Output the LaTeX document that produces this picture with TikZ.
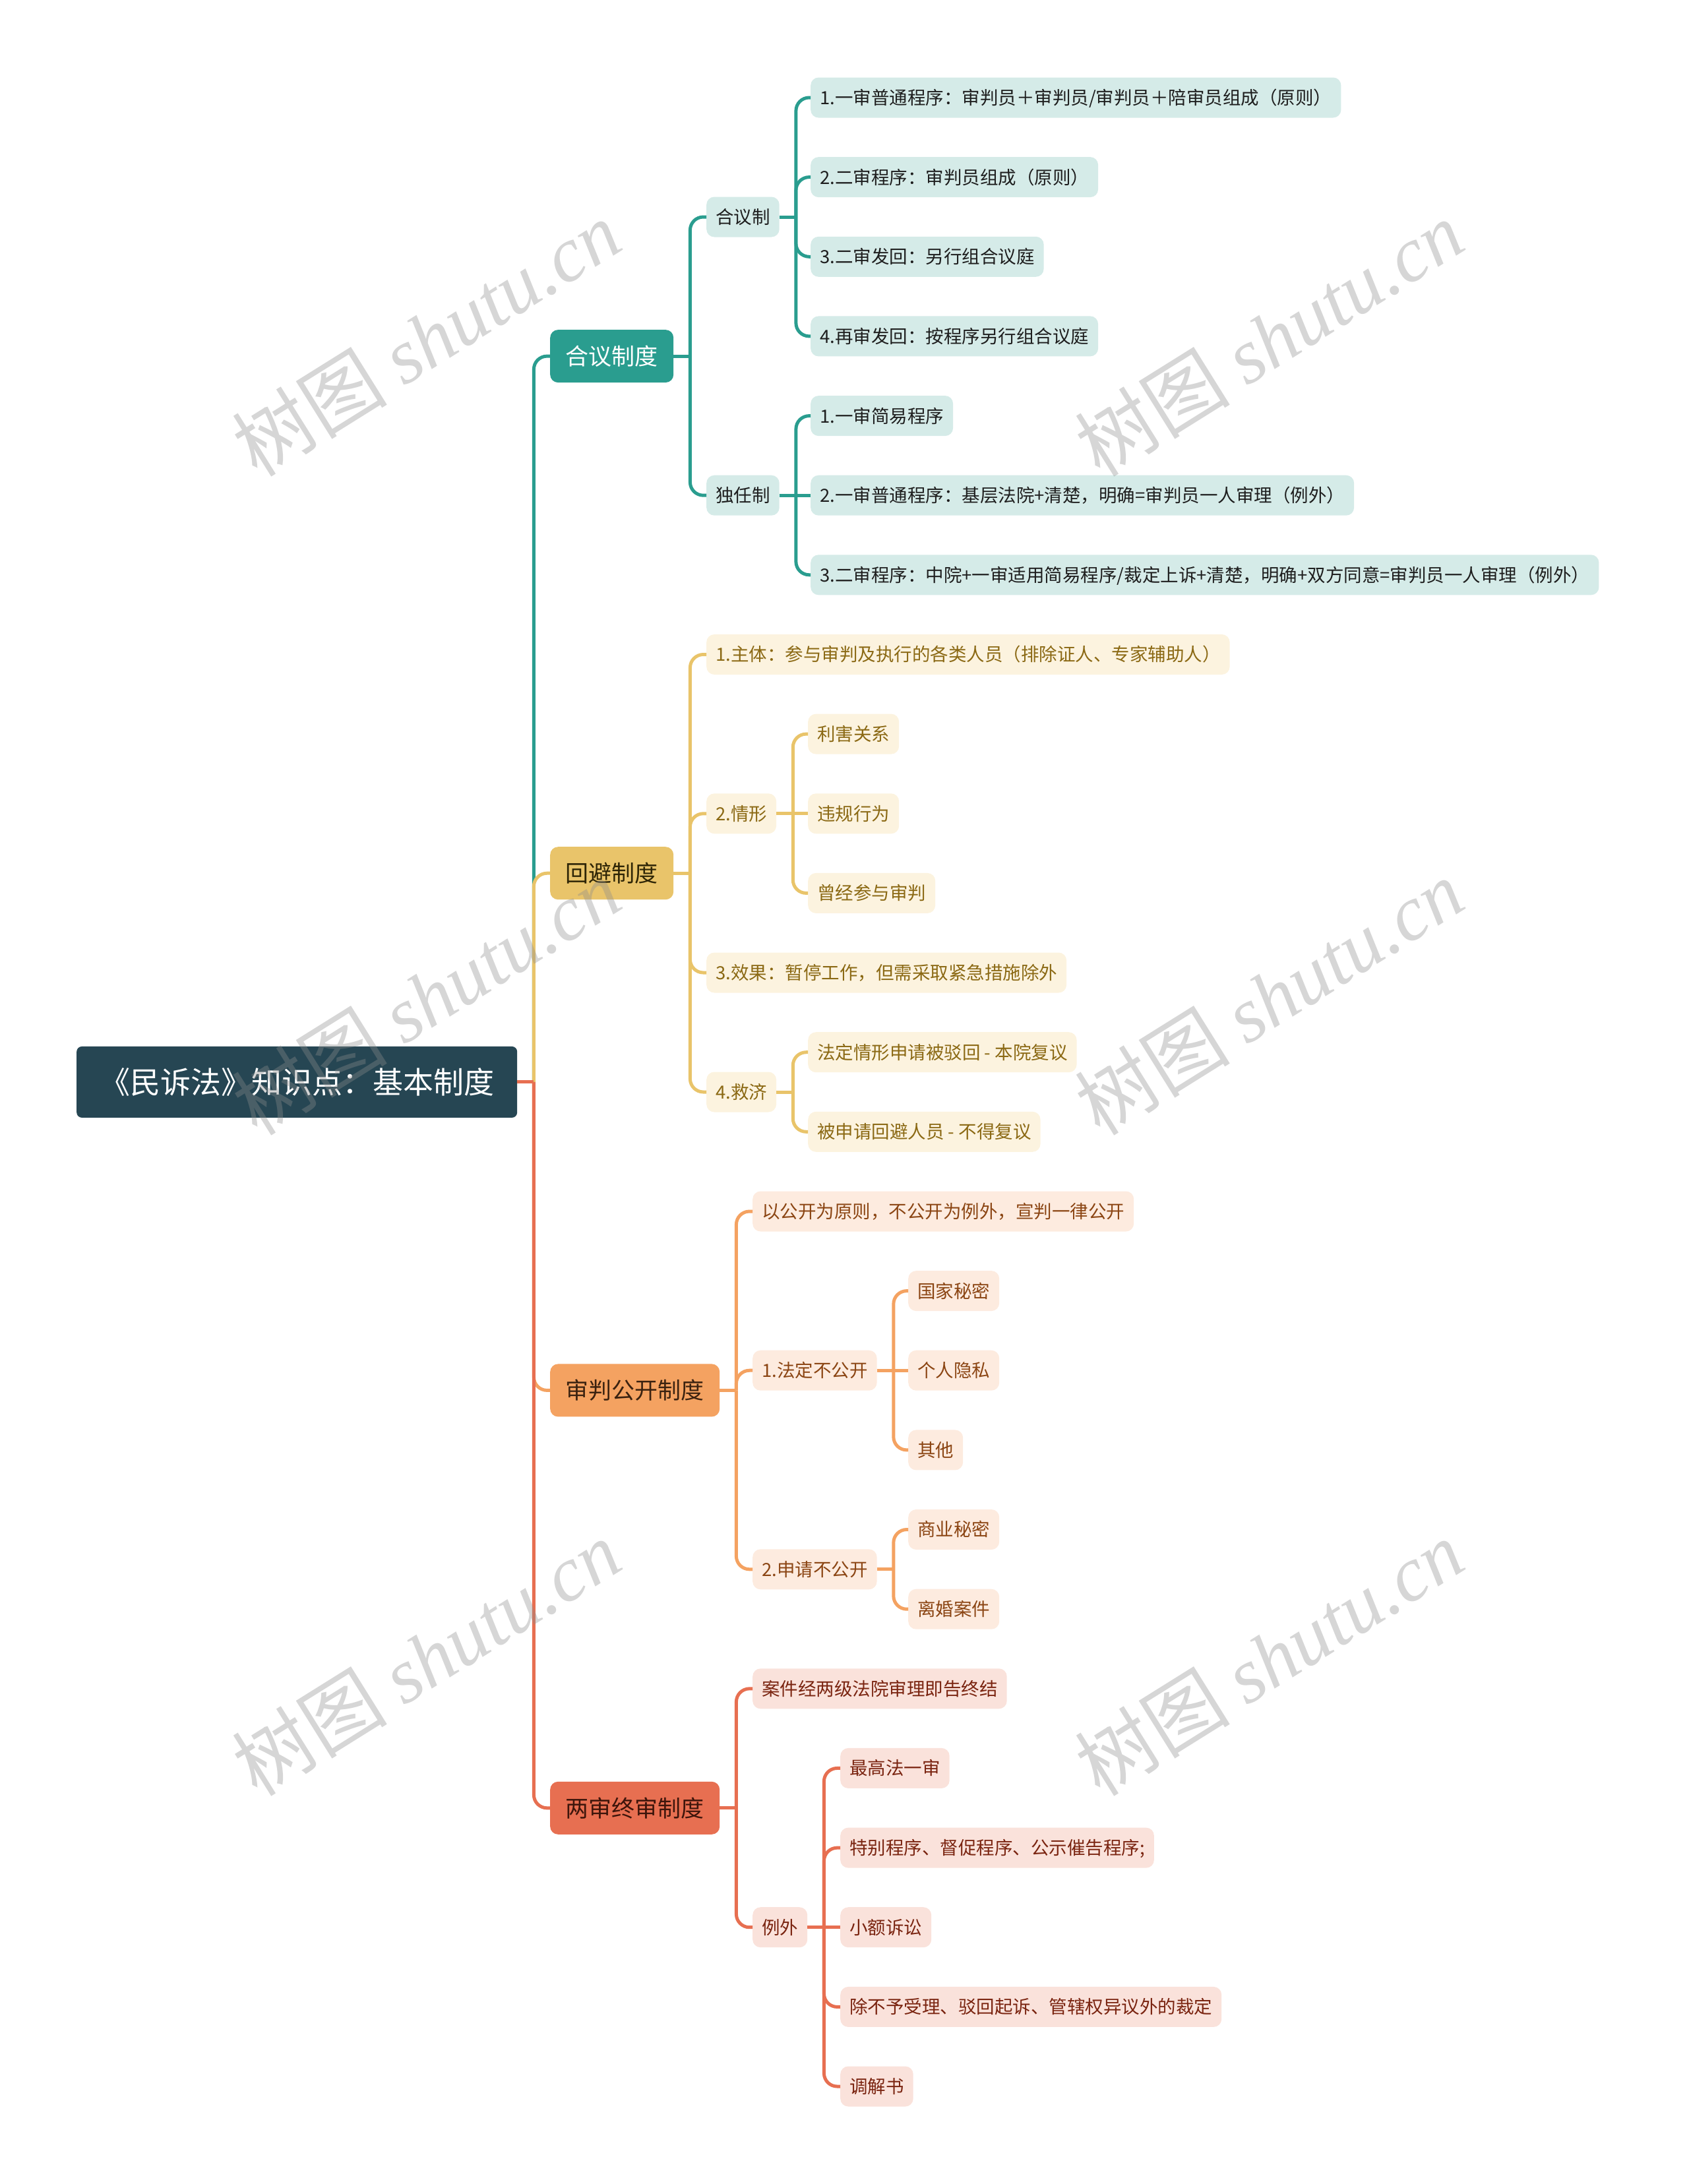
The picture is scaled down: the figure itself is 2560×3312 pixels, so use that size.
\documentclass[tikz,border=0pt]{standalone}
\usepackage{fontspec}
\setmainfont{Noto Sans CJK SC}
\newfontfamily\wmlatin{Liberation Serif}
\definecolor{rootc}{HTML}{264653}
\definecolor{tealc}{HTML}{2A9D8F}
\definecolor{tealsub}{HTML}{D5EBE8}
\definecolor{tealtx}{HTML}{1E1E1E}
\definecolor{yelc}{HTML}{E9C46A}
\definecolor{yelsub}{HTML}{FCF3DF}
\definecolor{yeltx}{HTML}{2E2506}
\definecolor{yelsubtx}{HTML}{8B6914}
\definecolor{orac}{HTML}{F4A261}
\definecolor{orasub}{HTML}{FDEBDF}
\definecolor{oratx}{HTML}{3B2210}
\definecolor{orasubtx}{HTML}{8B4513}
\definecolor{redc}{HTML}{E76F51}
\definecolor{redsub}{HTML}{FAE2DB}
\definecolor{redtx}{HTML}{3D150B}
\definecolor{redsubtx}{HTML}{7A2410}
\definecolor{wmc}{HTML}{8C8C8C}
\newcommand{\mmelbow}[3]{%
  \draw[conn,#1] (#2.east) -- ++(25,0) coordinate (elbowtmp);
  \draw[conn,#1,rounded corners=20pt] (elbowtmp) |- (#3.west);}
\newcommand{\mmstraight}[3]{\draw[conn,#1] (#2.east) -- (#3.west);}
\begin{document}
\begin{tikzpicture}[x=1pt,y=-1pt,
  conn/.style={line width=5pt},
  base/.style={anchor=west, inner ysep=0pt},
  rootbox/.style={base, fill=rootc, text=white, font=\fontsize{46}{50}\selectfont,
    inner xsep=35pt, minimum height=108pt, text height=38pt, text depth=3.2pt, rounded corners=8pt},
  lone/.style={base, font=\fontsize{35}{40}\selectfont, inner xsep=23.5pt,
    minimum height=80pt, text height=29pt, text depth=2.5pt, rounded corners=12pt},
  sub/.style={base, font=\fontsize{27.5}{32}\selectfont, inner xsep=14pt,
    minimum height=61pt, text height=22.8pt, text depth=1.9pt, rounded corners=12pt},
  ta/.style={sub, fill=tealsub, text=tealtx},
  yb/.style={sub, fill=yelsub, text=yelsubtx},
  oc/.style={sub, fill=orasub, text=orasubtx},
  rd/.style={sub, fill=redsub, text=redsubtx},
  wm/.style={rotate=32, text=wmc, text opacity=0.36, font=\fontsize{118}{120}\selectfont}
]
\useasboundingbox (0,0) rectangle (2560,3312);

% root and main branches
\node[rootbox] (R) at (116,1640.9) {《民诉法》知识点：基本制度};
\node[lone, fill=tealc, text=white] (A) at (834,540.1) {合议制度};
\node[lone, fill=yelc, text=yeltx] (B) at (834,1324.2) {回避制度};
\node[lone, fill=orac, text=oratx] (C) at (834,2108.4) {审判公开制度};
\node[lone, fill=redc, text=redtx] (D) at (834,2741.8) {两审终审制度};

% 合议制度
\node[ta] (A1) at (1071,329.0) {合议制};
\node[ta] (A2) at (1071,751.2) {独任制};
\node[ta] (A11) at (1229,148.0) {1.一审普通程序：审判员＋审判员/审判员＋陪审员组成（原则）};
\node[ta] (A12) at (1229,268.6) {2.二审程序：审判员组成（原则）};
\node[ta] (A13) at (1229,389.3) {3.二审发回：另行组合议庭};
\node[ta] (A14) at (1229,509.9) {4.再审发回：按程序另行组合议庭};
\node[ta] (A21) at (1229,630.6) {1.一审简易程序};
\node[ta] (A22) at (1229,751.2) {2.一审普通程序：基层法院+清楚，明确=审判员一人审理（例外）};
\node[ta] (A23) at (1229,871.8) {3.二审程序：中院+一审适用简易程序/裁定上诉+清楚，明确+双方同意=审判员一人审理（例外）};

% 回避制度
\node[yb] (B1) at (1071,992.5) {1.主体：参与审判及执行的各类人员（排除证人、专家辅助人）};
\node[yb] (B2) at (1071,1233.8) {2.情形};
\node[yb] (B21) at (1225,1113.1) {利害关系};
\node[yb] (B22) at (1225,1233.8) {违规行为};
\node[yb] (B23) at (1225,1354.4) {曾经参与审判};
\node[yb] (B3) at (1071,1475.0) {3.效果：暂停工作，但需采取紧急措施除外};
\node[yb] (B4) at (1071,1656.0) {4.救济};
\node[yb] (B41) at (1225,1595.7) {法定情形申请被驳回 - 本院复议};
\node[yb] (B42) at (1225,1716.3) {被申请回避人员 - 不得复议};

% 审判公开制度
\node[oc] (C1) at (1141,1837.0) {以公开为原则，不公开为例外，宣判一律公开};
\node[oc] (C2) at (1141,2078.2) {1.法定不公开};
\node[oc] (C21) at (1377,1957.6) {国家秘密};
\node[oc] (C22) at (1377,2078.2) {个人隐私};
\node[oc] (C23) at (1377,2198.9) {其他};
\node[oc] (C3) at (1141,2379.8) {2.申请不公开};
\node[oc] (C31) at (1377,2319.5) {商业秘密};
\node[oc] (C32) at (1377,2440.2) {离婚案件};

% 两审终审制度
\node[rd] (D1) at (1141,2560.8) {案件经两级法院审理即告终结};
\node[rd] (D2) at (1141,2922.7) {例外};
\node[rd] (D21) at (1274,2681.4) {最高法一审};
\node[rd] (D22) at (1274,2802.1) {特别程序、督促程序、公示催告程序;};
\node[rd] (D23) at (1274,2922.7) {小额诉讼};
\node[rd] (D24) at (1274,3043.4) {除不予受理、驳回起诉、管辖权异议外的裁定};
\node[rd] (D25) at (1274,3164.0) {调解书};

% connectors
\mmelbow{tealc}{R}{A}
\mmelbow{yelc}{R}{B}
\mmelbow{orac}{R}{C}
\mmelbow{redc}{R}{D}

\mmelbow{tealc}{A}{A1}
\mmelbow{tealc}{A}{A2}
\mmelbow{tealc}{A1}{A11}
\mmelbow{tealc}{A1}{A12}
\mmelbow{tealc}{A1}{A13}
\mmelbow{tealc}{A1}{A14}
\mmelbow{tealc}{A2}{A21}
\mmstraight{tealc}{A2}{A22}
\mmelbow{tealc}{A2}{A23}

\mmelbow{yelc}{B}{B1}
\mmelbow{yelc}{B}{B2}
\mmelbow{yelc}{B}{B3}
\mmelbow{yelc}{B}{B4}
\mmelbow{yelc}{B2}{B21}
\mmstraight{yelc}{B2}{B22}
\mmelbow{yelc}{B2}{B23}
\mmelbow{yelc}{B4}{B41}
\mmelbow{yelc}{B4}{B42}

\mmelbow{orac}{C}{C1}
\mmelbow{orac}{C}{C2}
\mmelbow{orac}{C}{C3}
\mmelbow{orac}{C2}{C21}
\mmstraight{orac}{C2}{C22}
\mmelbow{orac}{C2}{C23}
\mmelbow{orac}{C3}{C31}
\mmelbow{orac}{C3}{C32}

\mmelbow{redc}{D}{D1}
\mmelbow{redc}{D}{D2}
\mmelbow{redc}{D2}{D21}
\mmelbow{redc}{D2}{D22}
\mmstraight{redc}{D2}{D23}
\mmelbow{redc}{D2}{D24}
\mmelbow{redc}{D2}{D25}

% watermarks
\node[wm] (W1) at (646,513) {树图 {\wmlatin\itshape shutu.cn}};
\node[wm] (W2) at (1924,513) {树图 {\wmlatin\itshape shutu.cn}};
\node[wm] (W3) at (646,1512) {树图 {\wmlatin\itshape shutu.cn}};
\node[wm] (W4) at (1924,1512) {树图 {\wmlatin\itshape shutu.cn}};
\node[wm] (W5) at (646,2514) {树图 {\wmlatin\itshape shutu.cn}};
\node[wm] (W6) at (1924,2514) {树图 {\wmlatin\itshape shutu.cn}};
\end{tikzpicture}
\end{document}
